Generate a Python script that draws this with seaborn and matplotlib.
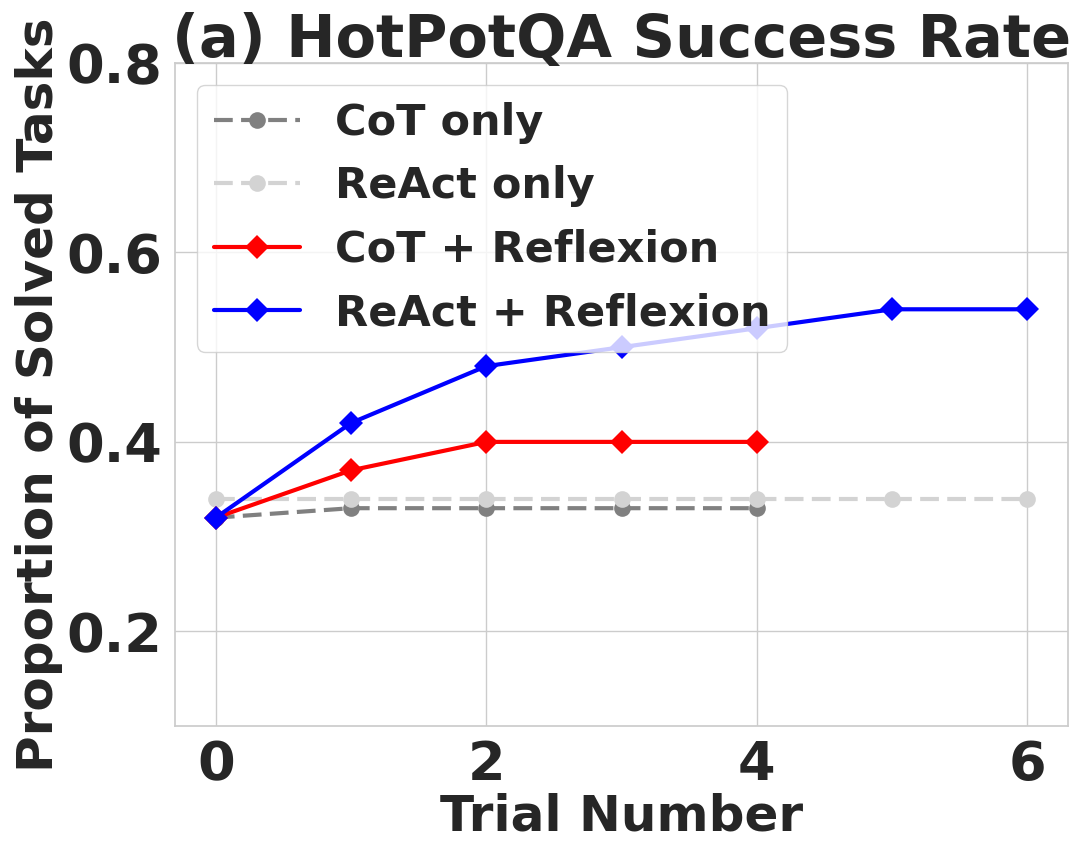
import matplotlib
matplotlib.use("Agg")
import matplotlib.pyplot as plt
import seaborn as sns

# -------------------------------------------------------
# Data
# -------------------------------------------------------
trials_short = [0, 1, 2, 3, 4]
trials_long = [0, 1, 2, 3, 4, 5, 6]

cot_only = [0.32, 0.33, 0.33, 0.33, 0.33]
react_only = [0.34, 0.34, 0.34, 0.34, 0.34, 0.34, 0.34]
cot_reflexion = [0.32, 0.37, 0.40, 0.40, 0.40]
react_reflexion = [0.32, 0.42, 0.48, 0.50, 0.52, 0.54, 0.54]

y_ticks = [0.2, 0.4, 0.6, 0.8]
x_ticks = [0, 2, 4, 6]

sns.set_theme(style="whitegrid")
plt.rcParams["font.family"] = ["DejaVu Sans"]
plt.rcParams["font.weight"] = "bold"

fig, ax = plt.subplots(figsize=(10.75, 8.46), dpi=100)
fig.subplots_adjust(left=0.163, right=0.9935, top=0.9255, bottom=0.1418)

dash = (0, (4.5, 2))
common = dict(markersize=12, markeredgewidth=0, linewidth=3)
sns.lineplot(x=trials_short, y=cot_only, ax=ax, color="gray", linestyle=dash,
             marker="o", label="CoT only", **common)
sns.lineplot(x=trials_long, y=react_only, ax=ax, color="lightgray", linestyle=dash,
             marker="o", label="ReAct only", **common)
sns.lineplot(x=trials_short, y=cot_reflexion, ax=ax, color="red",
             marker="D", label="CoT + Reflexion", **common)
sns.lineplot(x=trials_long, y=react_reflexion, ax=ax, color="blue",
             marker="D", label="ReAct + Reflexion", **common)

ax.set_ylim(0.1, 0.8)
ax.set_yticks(y_ticks)
ax.set_xticks(x_ticks)
ax.tick_params(axis="both", labelsize=39)
for lbl in ax.get_xticklabels() + ax.get_yticklabels():
    lbl.set_fontweight("bold")

ax.set_xlabel("Trial Number", fontsize=36, fontweight="bold", labelpad=1)
ax.set_ylabel("Proportion of Solved Tasks", fontsize=36, fontweight="bold", labelpad=2)
ax.set_title("(a) HotPotQA Success Rate", fontsize=42.5, fontweight="bold", pad=4)

leg = ax.legend(loc="upper left", prop={"weight": "bold", "size": 31},
                handlelength=2.0)

fig.savefig("out.png", dpi=100)
